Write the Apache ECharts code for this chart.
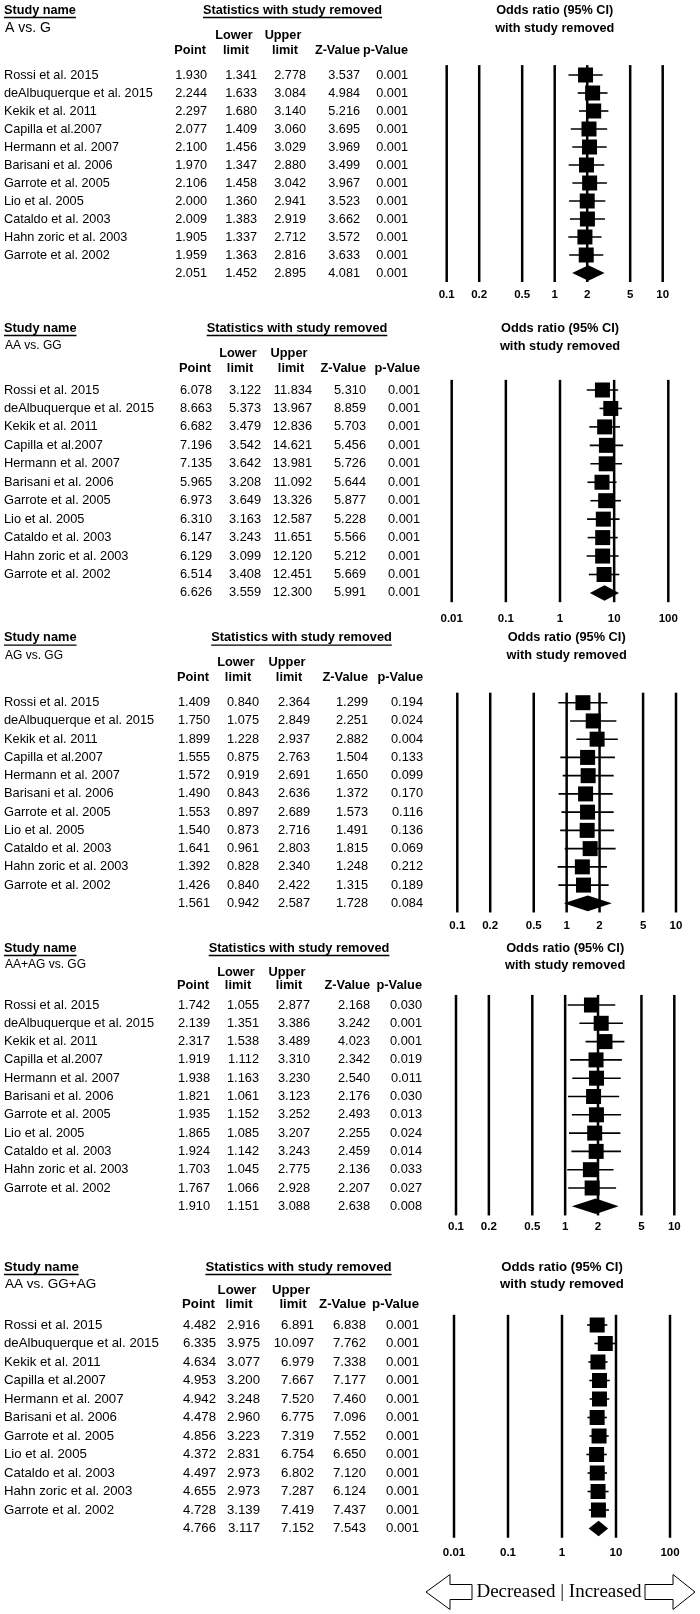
<!DOCTYPE html>
<html>
<head>
<meta charset="utf-8">
<script src="https://cdn.jsdelivr.net/npm/echarts@6/dist/echarts.min.js"></script>
<style>
  html, body { margin: 0; padding: 0; background: #fff; }
  #main { width: 700px; height: 1614px; }
</style>
</head>
<body>
<div id="main"></div>
<script>
// study names (the 12th row of each panel is the pooled result)
const studies = [
  'Rossi et al. 2015', 'deAlbuquerque et al. 2015', 'Kekik et al. 2011', 'Capilla et al.2007',
  'Hermann et al. 2007', 'Barisani et al. 2006', 'Garrote et al. 2005', 'Lio et al. 2005',
  'Cataldo et al. 2003', 'Hahn zoric et al. 2003', 'Garrote et al. 2002'
];
const ticksNarrow = [0.1, 0.2, 0.5, 1, 2, 5, 10];
const ticksWide = [0.01, 0.1, 1, 10, 100];

// A vs. G
const alleleOR = [1.930, 2.244, 2.297, 2.077, 2.100, 1.970, 2.106, 2.000, 2.009, 1.905, 1.959, 2.051];
const alleleLower = [1.341, 1.633, 1.680, 1.409, 1.456, 1.347, 1.458, 1.360, 1.383, 1.337, 1.363, 1.452];
const alleleUpper = [2.778, 3.084, 3.140, 3.060, 3.029, 2.880, 3.042, 2.941, 2.919, 2.712, 2.816, 2.895];
const alleleZ = [3.537, 4.984, 5.216, 3.695, 3.969, 3.499, 3.967, 3.523, 3.662, 3.572, 3.633, 4.081];
const alleleP = [0.001, 0.001, 0.001, 0.001, 0.001, 0.001, 0.001, 0.001, 0.001, 0.001, 0.001, 0.001];

// AA vs. GG
const homoOR = [6.078, 8.663, 6.682, 7.196, 7.135, 5.965, 6.973, 6.310, 6.147, 6.129, 6.514, 6.626];
const homoLower = [3.122, 5.373, 3.479, 3.542, 3.642, 3.208, 3.649, 3.163, 3.243, 3.099, 3.408, 3.559];
const homoUpper = [11.834, 13.967, 12.836, 14.621, 13.981, 11.092, 13.326, 12.587, 11.651, 12.120, 12.451, 12.300];
const homoZ = [5.310, 8.859, 5.703, 5.456, 5.726, 5.644, 5.877, 5.228, 5.566, 5.212, 5.669, 5.991];
const homoP = [0.001, 0.001, 0.001, 0.001, 0.001, 0.001, 0.001, 0.001, 0.001, 0.001, 0.001, 0.001];

// AG vs. GG
const heteroOR = [1.409, 1.750, 1.899, 1.555, 1.572, 1.490, 1.553, 1.540, 1.641, 1.392, 1.426, 1.561];
const heteroLower = [0.840, 1.075, 1.228, 0.875, 0.919, 0.843, 0.897, 0.873, 0.961, 0.828, 0.840, 0.942];
const heteroUpper = [2.364, 2.849, 2.937, 2.763, 2.691, 2.636, 2.689, 2.716, 2.803, 2.340, 2.422, 2.587];
const heteroZ = [1.299, 2.251, 2.882, 1.504, 1.650, 1.372, 1.573, 1.491, 1.815, 1.248, 1.315, 1.728];
const heteroP = [0.194, 0.024, 0.004, 0.133, 0.099, 0.170, 0.116, 0.136, 0.069, 0.212, 0.189, 0.084];

// AA+AG vs. GG
const domOR = [1.742, 2.139, 2.317, 1.919, 1.938, 1.821, 1.935, 1.865, 1.924, 1.703, 1.767, 1.910];
const domLower = [1.055, 1.351, 1.538, 1.112, 1.163, 1.061, 1.152, 1.085, 1.142, 1.045, 1.066, 1.151];
const domUpper = [2.877, 3.386, 3.489, 3.310, 3.230, 3.123, 3.252, 3.207, 3.243, 2.775, 2.928, 3.088];
const domZ = [2.168, 3.242, 4.023, 2.342, 2.540, 2.176, 2.493, 2.255, 2.459, 2.136, 2.207, 2.638];
const domP = [0.030, 0.001, 0.001, 0.019, 0.011, 0.030, 0.013, 0.024, 0.014, 0.033, 0.027, 0.008];

// AA vs. GG+AG
const recOR = [4.482, 6.335, 4.634, 4.953, 4.942, 4.478, 4.856, 4.372, 4.497, 4.655, 4.728, 4.766];
const recLower = [2.916, 3.975, 3.077, 3.200, 3.248, 2.960, 3.223, 2.831, 2.973, 2.973, 3.139, 3.117];
const recUpper = [6.891, 10.097, 6.979, 7.667, 7.520, 6.775, 7.319, 6.754, 6.802, 7.287, 7.419, 7.152];
const recZ = [6.838, 7.762, 7.338, 7.177, 7.460, 7.096, 7.552, 6.650, 7.120, 6.124, 7.437, 7.543];
const recP = [0.001, 0.001, 0.001, 0.001, 0.001, 0.001, 0.001, 0.001, 0.001, 0.001, 0.001, 0.001];

const panels = [
  {label: 'A vs. G', or: alleleOR, lower: alleleLower, upper: alleleUpper, z: alleleZ, p: alleleP, ticks: ticksNarrow},
  {label: 'AA vs. GG', or: homoOR, lower: homoLower, upper: homoUpper, z: homoZ, p: homoP, ticks: ticksWide},
  {label: 'AG vs. GG', or: heteroOR, lower: heteroLower, upper: heteroUpper, z: heteroZ, p: heteroP, ticks: ticksNarrow},
  {label: 'AA+AG vs. GG', or: domOR, lower: domLower, upper: domUpper, z: domZ, p: domP, ticks: ticksNarrow},
  {label: 'AA vs. GG+AG', or: recOR, lower: recLower, upper: recUpper, z: recZ, p: recP, ticks: ticksWide},
];

// layout of each panel, in pixels
const layouts = [
  {r0: 75, step: 18, plotL: 446.7, plotR: 662.7, cols: [207, 257, 306, 360, 408], statsC: 292.5, font: 12.7, subFont: 14,
    titleDy: -65, withDy: -47, lowerDy: -40, pointDy: -25, tickDy: 22},
  {r0: 390, step: 18.45, plotL: 451.7, plotR: 668.3, cols: [212, 261, 312, 366, 420], statsC: 297, font: 12.8, subFont: 12,
    titleDy: -62, withDy: -44, lowerDy: -37, pointDy: -22, tickDy: 26},
  {r0: 702.7, step: 18.24, plotL: 457.3, plotR: 676, cols: [210, 259, 310, 368, 423], statsC: 301.5, font: 12.8, subFont: 12,
    titleDy: -65, withDy: -47, lowerDy: -40, pointDy: -25, tickDy: 22},
  {r0: 1005, step: 18.3, plotL: 456, plotR: 674.3, cols: [210, 259, 310, 370, 422], statsC: 299, font: 12.8, subFont: 12,
    titleDy: -57, withDy: -40, lowerDy: -33, pointDy: -20, tickDy: 21},
  {r0: 1325, step: 18.5, plotL: 454, plotR: 670, cols: [216, 260, 314, 366, 419], statsC: 298.5, font: 13.2, subFont: 13.5,
    titleDy: -58, withDy: -41, lowerDy: -35, pointDy: -21, tickDy: 24},
];

const FAMILY = '"Liberation Sans", Arial, sans-serif';
const Y_MIN = -0.55, Y_MAX = 11.5;
const measure = document.createElement('canvas').getContext('2d');
const textWidth = (str, font) => { measure.font = font; return measure.measureText(str).width; };
const fontOf = (size, bold) => (bold ? 'bold ' : '') + size + 'px ' + FAMILY;

const txt = (x, y, text, align, font) => ({
  type: 'text',
  style: {x, y, text, textAlign: align, textVerticalAlign: 'middle', font, fill: '#000'}
});

const grids = [], xAxes = [], yAxes = [], series = [], graphics = [];

panels.forEach((pn, pi) => {
  const L = layouts[pi];
  grids.push({
    left: L.plotL, width: L.plotR - L.plotL,
    top: L.r0 + Y_MIN * L.step, height: (Y_MAX - Y_MIN) * L.step
  });
  xAxes.push({
    gridIndex: pi, type: 'log', logBase: 10,
    min: pn.ticks[0], max: pn.ticks[pn.ticks.length - 1], show: false
  });
  yAxes.push({gridIndex: pi, type: 'value', min: Y_MIN, max: Y_MAX, inverse: true, show: false});

  // vertical reference lines + tick labels
  series.push({
    type: 'custom', xAxisIndex: pi, yAxisIndex: pi, silent: true, clip: false,
    data: pn.ticks.map(v => [v, 0]),
    encode: {x: 0, y: 1},
    renderItem: (params, api) => {
      const v = api.value(0);
      const top = api.coord([v, Y_MIN]);
      const bot = api.coord([v, Y_MAX]);
      const lab = api.coord([v, 11]);
      return {
        type: 'group', children: [
          {type: 'line', shape: {x1: top[0], y1: top[1], x2: bot[0], y2: bot[1]}, style: {stroke: '#000', lineWidth: 2.5}},
          txt(lab[0], lab[1] + L.tickDy, String(v), 'center', fontOf(11.5, true))
        ]
      };
    }
  });

  // each study: CI whisker + square
  series.push({
    type: 'custom', xAxisIndex: pi, yAxisIndex: pi, silent: true, clip: false,
    data: studies.map((s, i) => [pn.or[i], pn.lower[i], pn.upper[i], i]),
    encode: {x: [0, 1, 2], y: 3},
    renderItem: (params, api) => {
      const i = api.value(3);
      const c = api.coord([api.value(0), i]);
      const l = api.coord([api.value(1), i]);
      const u = api.coord([api.value(2), i]);
      return {
        type: 'group', children: [
          {type: 'line', shape: {x1: l[0], y1: l[1], x2: u[0], y2: u[1]}, style: {stroke: '#000', lineWidth: 1.6}},
          {type: 'rect', shape: {x: c[0] - 7.5, y: c[1] - 7.5, width: 15, height: 15}, style: {fill: '#000'}}
        ]
      };
    }
  });

  // pooled diamond
  const k = studies.length;
  series.push({
    type: 'custom', xAxisIndex: pi, yAxisIndex: pi, silent: true, clip: false,
    data: [[pn.or[k], pn.lower[k], pn.upper[k], k]],
    encode: {x: [0, 1, 2], y: 3},
    renderItem: (params, api) => {
      const r = api.value(3);
      const c = api.coord([api.value(0), r]);
      const l = api.coord([api.value(1), r]);
      const u = api.coord([api.value(2), r]);
      return {
        type: 'polygon',
        shape: {points: [[l[0], c[1]], [c[0], c[1] - 7.8], [u[0], c[1]], [c[0], c[1] + 7.8]]},
        style: {fill: '#000'}
      };
    }
  });

  // table text
  series.push({
    type: 'custom', xAxisIndex: pi, yAxisIndex: pi, silent: true, clip: false,
    data: pn.or.map((v, i) => [1, i]),
    encode: {x: 0, y: 1},
    renderItem: (params, api) => {
      const i = api.value(1);
      const y = api.coord([1, i])[1];
      const f = fontOf(L.font, false);
      const children = [];
      if (i < studies.length) children.push(txt(4, y, studies[i], 'left', f));
      [pn.or[i], pn.lower[i], pn.upper[i], pn.z[i], pn.p[i]].forEach((v, c) => {
        children.push(txt(L.cols[c], y, v.toFixed(3), 'right', f));
      });
      return {type: 'group', children};
    }
  });

  // headers
  const fb = fontOf(L.font, true);
  const yT = L.r0 + L.titleDy, yW = L.r0 + L.withDy, yL = L.r0 + L.lowerDy, yP = L.r0 + L.pointDy;
  const wStudy = textWidth('Study name', fb);
  const wStats = textWidth('Statistics with study removed', fb);
  const plotC = (L.plotL + L.plotR) / 2;
  graphics.push(
    txt(4, yT, 'Study name', 'left', fb),
    {type: 'line', shape: {x1: 4, y1: yT + 7.5, x2: 4 + wStudy, y2: yT + 7.5}, style: {stroke: '#000', lineWidth: 1.3}},
    txt(L.statsC, yT, 'Statistics with study removed', 'center', fb),
    {type: 'line', shape: {x1: L.statsC - wStats / 2, y1: yT + 7.5, x2: L.statsC + wStats / 2, y2: yT + 7.5}, style: {stroke: '#000', lineWidth: 1.3}},
    txt(5, yW, pn.label, 'left', fontOf(L.subFont, false)),
    txt(L.cols[1] - 23, yL, 'Lower', 'center', fb),
    txt(L.cols[2] - 23, yL, 'Upper', 'center', fb),
    txt(L.cols[0] - 1, yP, 'Point', 'right', fb),
    txt(L.cols[1] - 21, yP, 'limit', 'center', fb),
    txt(L.cols[2] - 21, yP, 'limit', 'center', fb),
    txt(L.cols[3], yP, 'Z-Value', 'right', fb),
    txt(L.cols[4], yP, 'p-Value', 'right', fb),
    txt(plotC, yT, 'Odds ratio (95% CI)', 'center', fb),
    txt(plotC, yW, 'with study removed', 'center', fb)
  );
});

// direction arrows under the last panel
const arrowY = 1592;
graphics.push(
  {type: 'polygon', shape: {points: [[426, arrowY], [450, arrowY - 17.5], [450, arrowY - 7.5], [472, arrowY - 7.5],
    [472, arrowY + 7.5], [450, arrowY + 7.5], [450, arrowY + 17.5]]}, style: {fill: '#fff', stroke: '#000', lineWidth: 1}},
  {type: 'polygon', shape: {points: [[695, arrowY], [673, arrowY - 17.5], [673, arrowY - 7.5], [645, arrowY - 7.5],
    [645, arrowY + 7.5], [673, arrowY + 7.5], [673, arrowY + 17.5]]}, style: {fill: '#fff', stroke: '#000', lineWidth: 1}},
  txt(559, arrowY, 'Decreased | Increased', 'center', '19px "Liberation Serif", "Times New Roman", serif')
);

const chart = echarts.init(document.getElementById('main'), null, {renderer: 'canvas'});
chart.setOption({
  animation: false,
  backgroundColor: '#fff',
  grid: grids,
  xAxis: xAxes,
  yAxis: yAxes,
  series: series,
  graphic: {elements: graphics}
});
</script>
</body>
</html>
